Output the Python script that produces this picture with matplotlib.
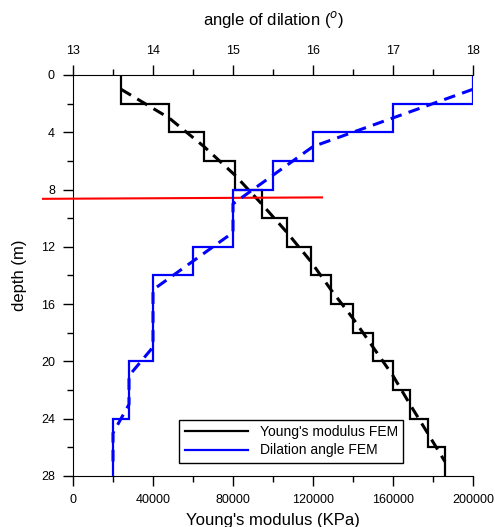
import numpy as np
import matplotlib
matplotlib.use("Agg")
import matplotlib.pyplot as plt
from matplotlib.ticker import MultipleLocator

plt.rcParams['font.family'] = ['Liberation Sans', 'DejaVu Sans']

# layer edges (m) and the values in each 2 m layer
depth_edges = [0, 2, 4, 6, 8, 10, 12, 14, 16, 18, 20, 22, 24, 26, 28]
depth_mid = [1, 3, 5, 7, 9, 11, 13, 15, 17, 19, 21, 23, 25, 27]
young_fem = [24000, 48000, 65500, 81000, 94300, 107000, 118800,
             129000, 140000, 150000, 160000, 168500, 177300, 186000]
dilation_fem = [18.0, 17.0, 16.0, 15.5, 15.0, 15.0, 14.5,
                14.0, 14.0, 14.0, 13.7, 13.7, 13.5, 13.5]

# red marker line
red_x = [-15000, 124500]
red_depth = [8.65, 8.55]

fig = plt.figure(figsize=(4.95, 5.27), dpi=100)
ax = fig.add_axes([0.1475, 0.0968, 0.808, 0.761])
ax2 = ax.twiny()

# Young's modulus (bottom axis)
l1 = ax.stairs(young_fem, depth_edges, orientation='horizontal', baseline=None,
               color='black', lw=1.6, label="Young's modulus FEM")
ax.plot(young_fem, depth_mid, color='black', lw=2.2, ls=(0, (3.8, 2.4)))

# dilation angle (top axis)
l2 = ax2.stairs(dilation_fem, depth_edges, orientation='horizontal', baseline=None,
                color='blue', lw=1.6, label="Dilation angle FEM")
ax2.plot(dilation_fem, depth_mid, color='blue', lw=2.2, ls=(0, (3.8, 2.4)))

ax.plot(red_x, red_depth, color='red', lw=1.5, clip_on=False, zorder=5)

ax.set_xlim(0, 200000)
ax2.set_xlim(13, 18)
ax.set_ylim(28, 0)

ax.xaxis.set_major_locator(MultipleLocator(40000))
ax.xaxis.set_minor_locator(MultipleLocator(20000))
ax2.xaxis.set_major_locator(MultipleLocator(1))
ax2.xaxis.set_minor_locator(MultipleLocator(0.5))
ax.yaxis.set_major_locator(MultipleLocator(4))
ax.yaxis.set_minor_locator(MultipleLocator(2))

for a in (ax, ax2):
    a.spines['right'].set_visible(False)
    a.tick_params(which='major', length=7, width=1, labelsize=9, pad=6)
    a.tick_params(which='minor', length=4.5, width=1)
ax2.spines['bottom'].set_visible(False)
ax2.spines['left'].set_visible(False)
ax.spines['top'].set_visible(False)

ax.set_xlabel("Young's modulus (KPa)", fontsize=12, labelpad=5)
ax.set_ylabel("depth (m)", fontsize=12, labelpad=10)
ax2.set_xlabel("angle of dilation ($^{o}$)", fontsize=12, labelpad=14)

leg = ax.legend(handles=[l1, l2], loc='lower left', bbox_to_anchor=(0.2475, 0.015),
                fontsize=10, handlelength=4.6, fancybox=False, edgecolor='black',
                framealpha=1, borderpad=0.4, labelspacing=0.3)
leg.get_frame().set_linewidth(1.0)

fig.savefig("out.png", dpi=100)
